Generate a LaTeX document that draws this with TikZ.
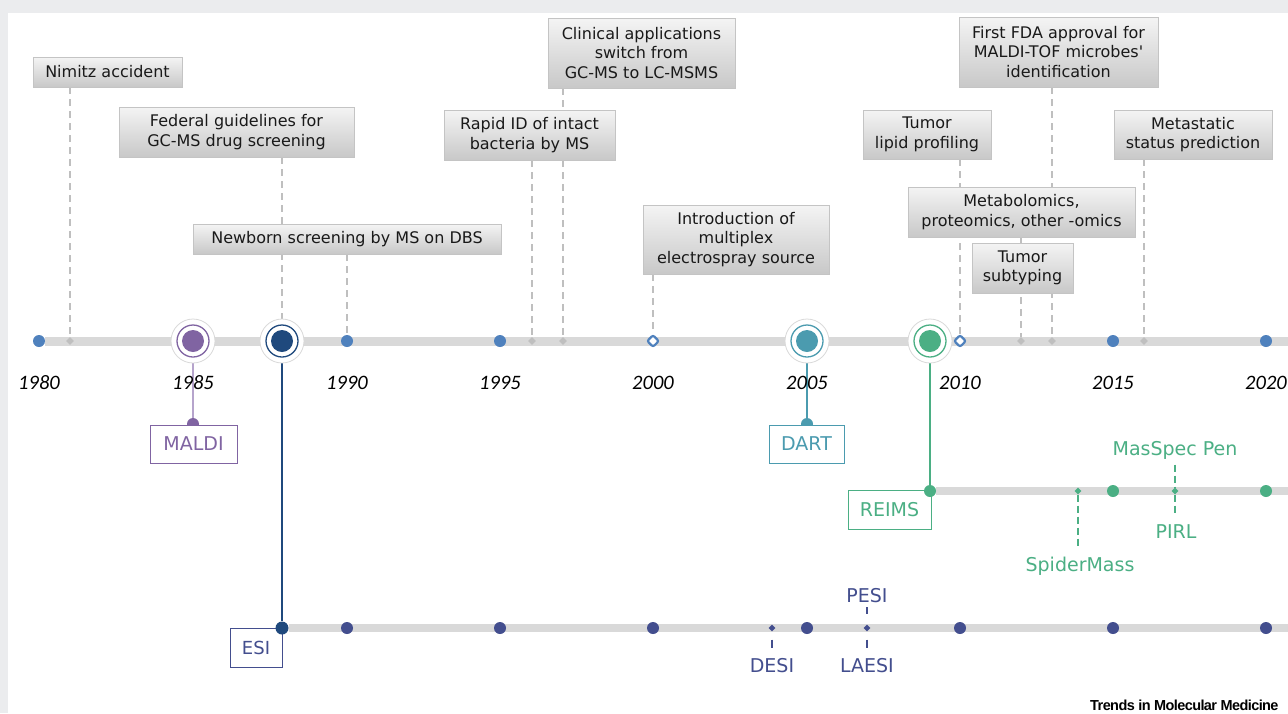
\documentclass[tikz,border=0pt]{standalone}
\usepackage{fontspec}
\setmainfont{DejaVu Sans}
\newfontfamily\yearfont{Carlito}
\newfontfamily\brandfont[LetterSpace=-4]{Liberation Sans}
\usetikzlibrary{shapes.geometric}

\definecolor{bandgray}{HTML}{EBECEE}
\definecolor{railgray}{HTML}{D9D9D9}
\definecolor{dashgray}{HTML}{BFBFBF}
\definecolor{boxtop}{HTML}{F4F4F4}
\definecolor{boxbot}{HTML}{C8C8C8}
\definecolor{boxedge}{HTML}{C4C4C4}
\definecolor{yrblue}{HTML}{4F81BD}
\definecolor{maldi}{HTML}{8064A2}
\definecolor{maldistem}{HTML}{B6A4CC}
\definecolor{esi}{HTML}{1F497D}
\definecolor{esiline}{HTML}{434E8E}
\definecolor{dart}{HTML}{4B9BAF}
\definecolor{reims}{HTML}{4BAF84}

\pgfdeclarelayer{backdrop}
\pgfdeclarelayer{bg}
\pgfsetlayers{backdrop,bg,main}

\tikzset{
	event/.style={draw=boxedge, line width=0.8pt, top color=boxtop, bottom color=boxbot,
		align=center, inner sep=0pt, text=black!90, font=\fontsize{16}{19.5}\selectfont},
	rail/.style={draw=railgray, line width=#1},
	rail/.default=7.5pt,
	evline/.style={draw=dashgray, line width=2pt, dash pattern=on 7pt off 5pt},
	evmark/.style={diamond, fill=dashgray, minimum size=8pt, inner sep=0pt},
	yeardot/.style={circle, fill=#1, minimum size=12pt, inner sep=0pt},
	yeardot/.default=yrblue,
	yearhollow/.style={diamond, draw=yrblue, fill=white, line width=2.2pt,
		minimum size=12.5pt, inner sep=0pt, rounded corners=2pt},
	yearlabel/.style={font=\yearfont\itshape\fontsize{20.5}{20.5}\selectfont},
	halo/.style={circle, draw=railgray, line width=0.8pt, fill=white, minimum size=44pt, inner sep=0pt},
	ring/.style={circle, draw=#1, line width=1.3pt, minimum size=32pt, inner sep=0pt},
	core/.style={circle, fill=#1, minimum size=22pt, inner sep=0pt},
	techbox/.style={draw=#1, fill=white, text=#1, line width=0.9pt, minimum height=38pt,
		inner sep=0pt, font=\fontsize{19}{19}\selectfont},
	techlabel/.style={text=#1, inner sep=0pt, anchor=base, font=\fontsize{19}{19}\selectfont},
	techmark/.style={diamond, fill=#1, minimum size=7pt, inner sep=0pt},
	techdash/.style={draw=#1, line width=2pt, dash pattern=on 7pt off 4pt},
	stem/.style={draw=#1, line width=1.4pt},
}

\begin{document}
\begin{tikzpicture}[x=1pt,y=-1pt]
	\useasboundingbox (0,0) rectangle (1288,713);
	\begin{pgfonlayer}{backdrop}
		\fill[bandgray] (0,0) rectangle (1288,713);
		\fill[white] (8,12.5) rectangle (1288,713);
	\end{pgfonlayer}

	% main rail: years
	\foreach \n/\x in {y80/39, y90/347, y95/500, y15/1113, y20/1266}
		\node[yeardot] (\n) at (\x,341) {};
	\node[yearhollow] (y00) at (653,341) {};
	\node[yearhollow] (y10) at (960,341) {};
	\coordinate (mainend) at (1288,341);
	\foreach \yr/\x in {1980/39, 1985/193, 1990/347, 1995/500, 2000/653, 2005/807, 2010/960, 2015/1113, 2020/1266}
		\node[yearlabel] (lab\yr) at (\x,383) {\yr};

	% technology milestones
	\foreach \n/\x/\c in {m85/193/maldi, m88/282/esi, m05/807/dart, m09/930/reims} {
		\node[halo] (\n) at (\x,341) {};
		\node[ring=\c] (\n-r) at (\n) {};
		\node[core=\c] (\n-c) at (\n) {};
	}

	% event markers
	\foreach \n/\x in {k81/70, k96/532, k97/563, k12/1021, k13/1052, k16/1144}
		\node[evmark] (\n) at (\x,341) {};

	% events
	\node[event, minimum width=149pt, minimum height=30pt] (nim) at (107.5,72) {Nimitz accident};
	\node[event, minimum width=235pt, minimum height=50pt] (fed) at (236.5,132) {Federal guidelines for\\GC-MS drug screening};
	\node[event, minimum width=308pt, minimum height=30pt] (newb) at (347,239) {Newborn screening by MS on DBS};
	\node[event, minimum width=171pt, minimum height=50pt] (rapid) at (529.5,135) {Rapid ID of intact\\bacteria by MS};
	\node[event, minimum width=187pt, minimum height=70pt] (clin) at (641.5,53) {Clinical applications\\switch from\\GC-MS to LC-MSMS};
	\node[event, minimum width=186pt, minimum height=69pt] (intro) at (736,239.5) {Introduction of\\multiplex\\electrospray source};
	\node[event, minimum width=128pt, minimum height=49pt] (lipid) at (927,134.5) {Tumor\\lipid profiling};
	\node[event, minimum width=227pt, minimum height=50pt] (omics) at (1021.5,212) {Metabolomics,\\proteomics, other -omics};
	\node[event, minimum width=101pt, minimum height=50pt] (subt) at (1022.5,268) {Tumor\\subtyping};
	\node[event, minimum width=199pt, minimum height=70pt] (fda) at (1058.5,52) {First FDA approval for\\MALDI-TOF microbes\textquotesingle\\identification};
	\node[event, minimum width=158pt, minimum height=49pt] (meta) at (1193,134.5) {Metastatic\\status prediction};

	% MALDI and DART
	\node[yeardot=maldi] (maldidot) at (193,424) {};
	\node[techbox=maldi, minimum width=87pt] (maldi) at (193.5,444) {MALDI};
	\node[yeardot=dart] (dartdot) at (807,424) {};
	\node[techbox=dart, minimum width=75pt] (dart) at (806.5,444) {DART};

	% REIMS rail
	\node[techbox=reims, minimum width=83pt, minimum height=39pt] (reims) at (889.5,510) {REIMS};
	\node[yeardot=reims] (rdot) at (930,491) {};
	\node[yeardot=reims] (r15) at (1113,491) {};
	\node[yeardot=reims] (r20) at (1266,491) {};
	\node[techmark=reims] (kspider) at (1078,491) {};
	\node[techmark=reims] (kpen) at (1175,491) {};
	\coordinate (reimsend) at (1288,491);
	\node[techlabel=reims] (spider) at (1080,571) {SpiderMass};
	\node[techlabel=reims] (pen) at (1175,455) {MasSpec Pen};
	\node[techlabel=reims] (pirl) at (1176,538) {PIRL};

	% ESI rail
	\node[techbox=esiline, minimum width=52pt, minimum height=39pt, font=\fontsize{18}{18}\selectfont] (esi) at (256,647.5) {ESI};
	\node[yeardot=esi, minimum size=13pt] (esidot) at (282,628) {};
	\foreach \n/\x in {e90/347, e95/500, e00/653, e05/807, e10/960, e15/1113, e20/1266}
		\node[yeardot=esiline] (\n) at (\x,628) {};
	\node[techmark=esiline] (kdesi) at (772,628) {};
	\node[techmark=esiline] (kpesi) at (867,628) {};
	\coordinate (esiend) at (1288,628);
	\node[techlabel=esiline] (desi) at (772,672) {DESI};
	\node[techlabel=esiline] (pesi) at (867,602) {PESI};
	\node[techlabel=esiline] (laesi) at (867,672) {LAESI};

	\node[anchor=base west, inner sep=0pt, font=\brandfont\bfseries\fontsize{14.5}{14.5}\selectfont] (brand) at (1090,710) {Trends in Molecular Medicine};

	\begin{pgfonlayer}{bg}
		\draw[rail=9pt] (y80) -- (mainend);
		\draw[rail] (rdot) -- (reimsend);
		\draw[rail] (esidot) -- (esiend);

		\draw[evline] (nim.south -| k81) -- (k81);
		\draw[evline] (fed.south -| m88) -- (m88);
		\draw[evline] (newb.south -| y90) -- (y90);
		\draw[evline] (rapid.south -| k96) -- (k96);
		\draw[evline] (clin.south -| k97) -- (k97);
		\draw[evline] (intro.south -| y00) -- (y00);
		\draw[evline] (lipid.south -| y10) -- (y10);
		\draw[evline] (omics.south -| k12) -- (k12);
		\draw[evline] (fda.south -| k13) -- (k13);
		\draw[evline] (meta.south -| k16) -- (k16);

		\draw[stem=maldistem] (m85) -- (maldidot);
		\draw[stem=dart] (m05) -- (dartdot);
		\draw[stem=reims] (m09) -- (rdot);
		\draw[stem=esi, line width=1.2pt] (m88) -- (esidot);

		\draw[techdash=reims, shorten >=9.5pt] (kspider) -- (spider.north -| kspider);
		\draw[techdash=reims, shorten <=5.5pt] (pen.south -| kpen) -- (kpen);
		\draw[techdash=reims, shorten >=11pt] (kpen) -- (pirl.north -| kpen);

		\draw[stem=esiline, line width=2pt, shorten <=5pt, shorten >=10pt] (pesi.south -| kpesi) -- (kpesi);
		\draw[stem=esiline, line width=2pt, shorten <=8pt, shorten >=10pt] (kdesi) -- (desi.north -| kdesi);
		\draw[stem=esiline, line width=2pt, shorten <=8pt, shorten >=10pt] (kpesi) -- (laesi.north -| kpesi);
	\end{pgfonlayer}
\end{tikzpicture}
\end{document}
